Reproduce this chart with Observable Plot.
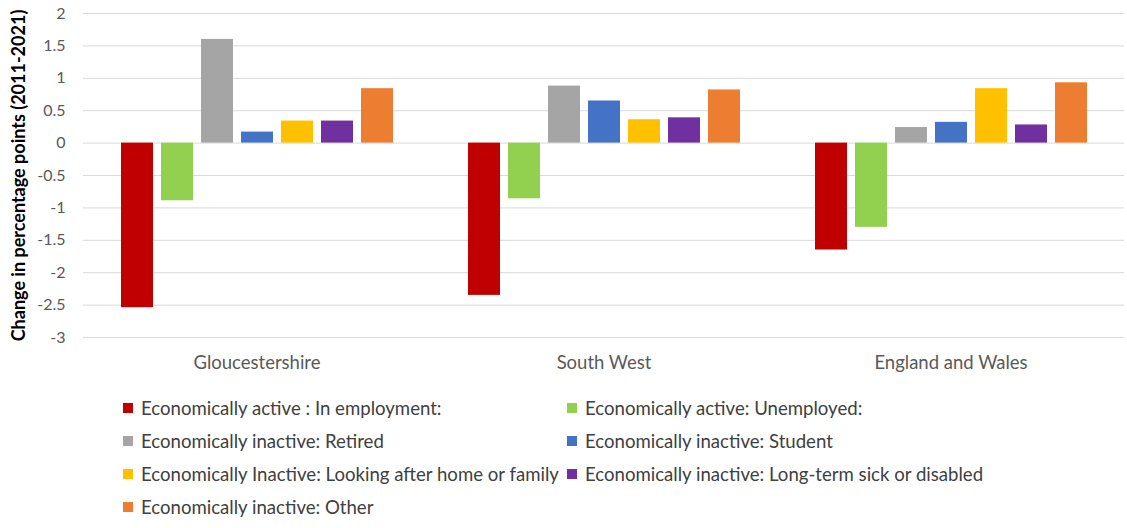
<!DOCTYPE html>
<html>
<head>
<meta charset="utf-8">
<script src="https://cdn.jsdelivr.net/npm/d3@7"></script>
<script src="https://cdn.jsdelivr.net/npm/@observablehq/plot@0.6"></script>
<style>
  body { margin: 0; background: #fff; font-family: Lato, sans-serif; }
  #chart svg { display: block; }
  #chart g[aria-label="y-axis label"] text { font-weight: bold; fill: #000; font-size: 18px; }
  #legend { position: relative; height: 148px; font-size: 18.6px; color: #404040; }
  .item { position: absolute; display: flex; align-items: center; white-space: nowrap; }
  .sw { width: 10px; height: 10px; margin-right: 8px; }
</style>
</head>
<body>
<div id="chart"></div>
<div id="legend"></div>
<script>
const categories = ["Gloucestershire", "South West", "England and Wales"];
const series = [
  "Economically active : In employment:",
  "Economically active: Unemployed:",
  "Economically inactive: Retired",
  "Economically inactive: Student",
  "Economically Inactive: Looking after home or family",
  "Economically inactive: Long-term sick or disabled",
  "Economically inactive: Other"
];
const colors = ["#c00000", "#92d050", "#a5a5a5", "#4472c4", "#ffc000", "#7030a0", "#ed7d31"];
const gloucestershire = [-2.54, -0.89, 1.60, 0.17, 0.34, 0.34, 0.84];
const southWest = [-2.35, -0.86, 0.88, 0.65, 0.36, 0.39, 0.82];
const englandWales = [-1.65, -1.30, 0.24, 0.32, 0.84, 0.28, 0.93];
const yTicks = [-3, -2.5, -2, -1.5, -1, -0.5, 0, 0.5, 1, 1.5, 2];

const values = [gloucestershire, southWest, englandWales];
const data = categories.flatMap((c, i) => series.map((s, j) => ({area: c, series: s, value: values[i][j]})));

const chart = Plot.plot({
  width: 1127,
  height: 380,
  marginLeft: 82,
  marginRight: 2,
  marginTop: 13,
  marginBottom: 43,
  style: {fontFamily: "Lato, sans-serif", fontSize: "16px", color: "#595959", background: "#fff"},
  fx: {domain: categories, padding: 0, label: null},
  x: {domain: series, paddingInner: 0.21, paddingOuter: 0.9, axis: null},
  y: {domain: [-3, 2]},
  color: {domain: series, range: colors},
  marks: [
    Plot.gridY(yTicks, {stroke: "#d9d9d9", strokeOpacity: 1}),
    Plot.barY(data, {fx: "area", x: "series", y: "value", fill: "series"}),
    Plot.axisFx({anchor: "bottom", tickSize: 0, tickPadding: 18, label: null, fontSize: 18.5}),
    Plot.axisY(yTicks, {tickSize: 0, tickPadding: 18, tickFormat: d => String(d), fontSize: 16,
      label: "Change in percentage points (2011-2021)", labelAnchor: "center", labelOffset: 71, labelArrow: "none"})
  ]
});
document.getElementById("chart").appendChild(chart);

const legend = document.getElementById("legend");
series.forEach((s, i) => {
  const col = i % 2, row = Math.floor(i / 2);
  const el = document.createElement("div");
  el.className = "item";
  el.style.left = (col === 0 ? 123 : 567) + "px";
  el.style.top = (28 + row * 33 - 12) + "px";
  el.style.height = "24px";
  el.innerHTML = `<span class="sw" style="background:${colors[i]}"></span><span>${s}</span>`;
  legend.appendChild(el);
});
</script>
</body>
</html>
